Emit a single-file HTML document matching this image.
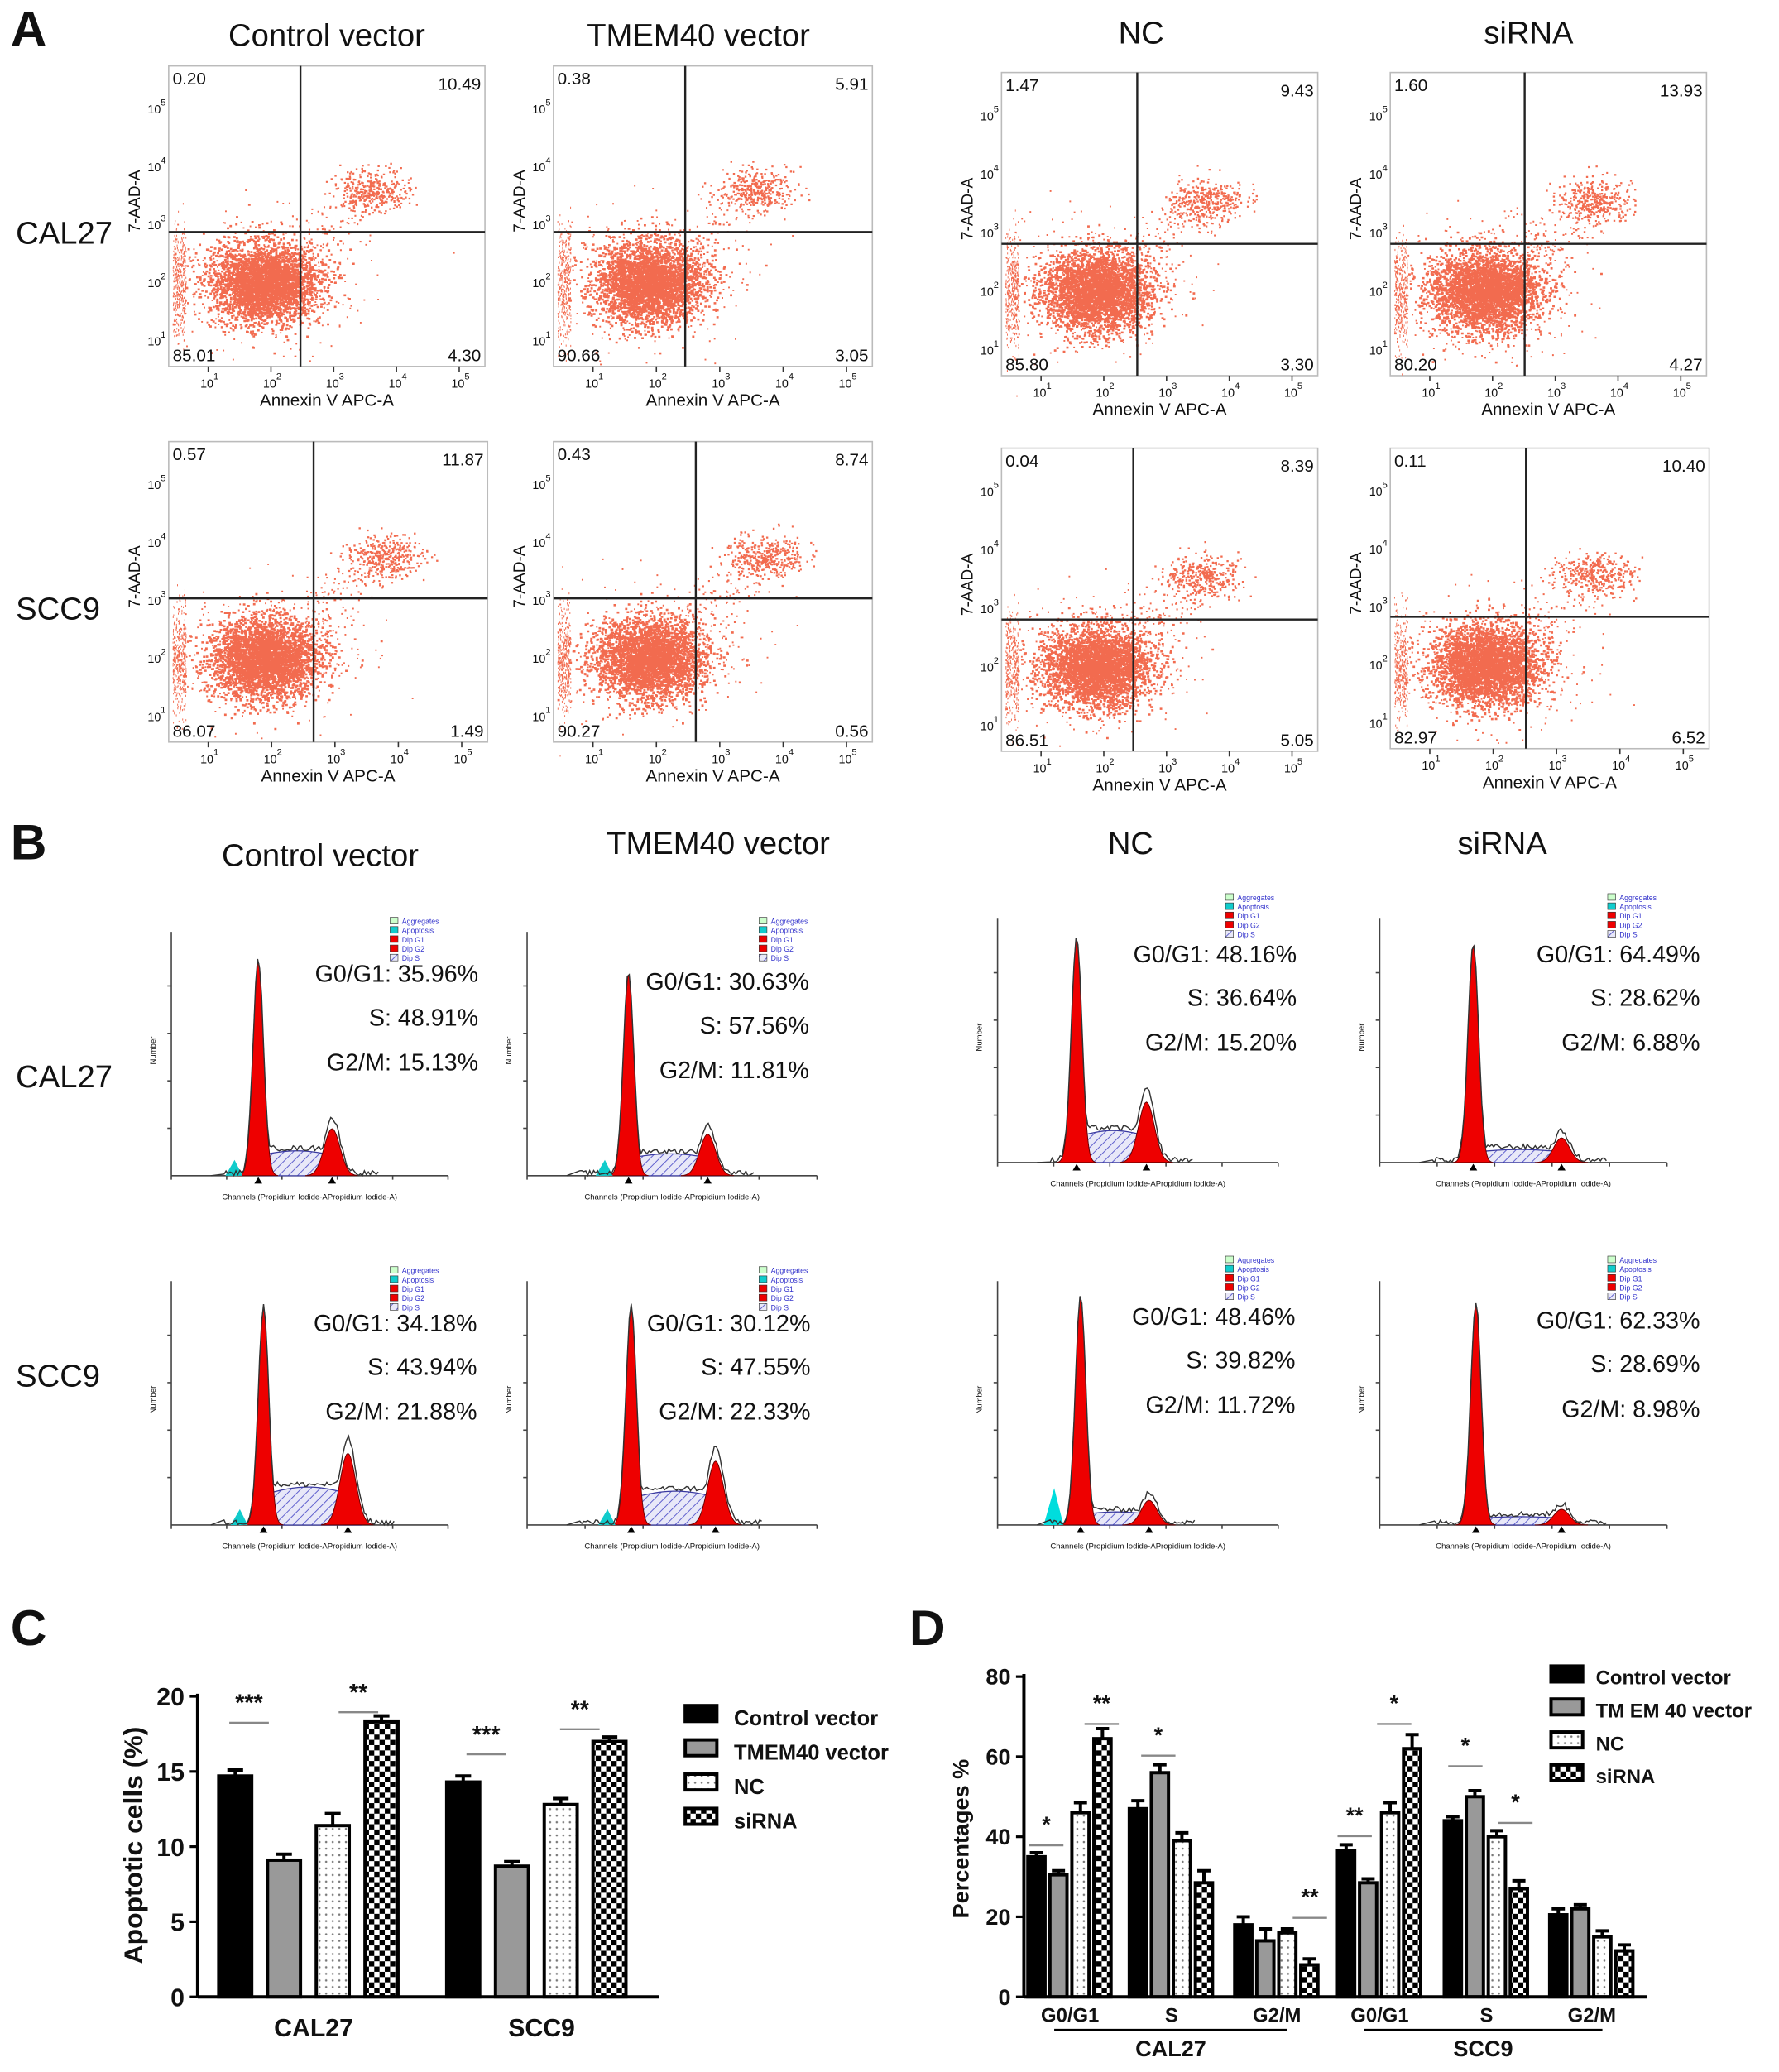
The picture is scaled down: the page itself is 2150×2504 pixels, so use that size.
<!DOCTYPE html>
<html><head><meta charset="utf-8"><style>
html,body{margin:0;padding:0;background:#fff}
svg{display:block;font-family:"Liberation Sans",Arial,sans-serif}
</style></head><body>
<svg id="fig" xmlns="http://www.w3.org/2000/svg" width="2150" height="2504" viewBox="0 0 1350 1572" preserveAspectRatio="none">
<defs>
<pattern id="dots" width="5" height="5" patternUnits="userSpaceOnUse"><rect width="5" height="5" fill="#fff"/><circle cx="2.5" cy="2.5" r="0.8" fill="#777"/></pattern>
<pattern id="check" width="8" height="8" patternUnits="userSpaceOnUse"><rect width="8" height="8" fill="#fff"/><rect width="4" height="4" fill="#000"/><rect x="4" y="4" width="4" height="4" fill="#000"/></pattern>
<pattern id="hatch" width="5" height="5" patternUnits="userSpaceOnUse" patternTransform="rotate(45)"><rect width="5" height="5" fill="#e8e8f8"/><line x1="0" y1="0" x2="0" y2="5" stroke="#5a5acc" stroke-width="1.2"/></pattern>
</defs>
<g id="root"></g>
</svg>
<script>
// Panel C data
const cGroups = ['CAL27','SCC9'];
const cSeries = ['Control vector','TMEM40 vector','NC','siRNA'];
const cValues = [[14.7,9.1,11.4,18.3],[14.3,8.7,12.8,17.0]];
const cErrors = [[0.4,0.4,0.8,0.4],[0.4,0.3,0.4,0.3]];
const cTicks = [0,5,10,15,20];
// Panel D data
const dCells = ['CAL27','SCC9'];
const dPhases = ['G0/G1','S','G2/M'];
const dValues = [
 [[35,30.5,46,64.5],[47,56,39,28.5],[18,14,16,8]],
 [[36.5,28.5,46,62],[44,50,40,27],[20.5,22,15,11.5]]
];
const dErrors = [
 [[1,1,2.5,2.5],[2,2,2,3],[2,3,1,1.5]],
 [[1.5,1,2.5,3.5],[1,1.5,1.5,2],[1.5,1,1.5,1.5]]
];
const dTicks = [0,20,40,60,80];

const NS='http://www.w3.org/2000/svg';
const root=document.getElementById('root');
function el(tag,attrs,parent,text){const e=document.createElementNS(NS,tag);for(const k in attrs)e.setAttribute(k,attrs[k]);if(text!==undefined)e.textContent=text;(parent||root).appendChild(e);return e;}
function txt(x,y,s,size,opts,parent,name){const e=el('text',Object.assign({x:x,y:y,'font-size':size,fill:'#111'},opts||{}),parent,s);

return e;}
let seed=12345;function rnd(){seed=(seed*1103515245+12345)%2147483648;return seed/2147483648;}
function gauss(){let u=rnd()||1e-6,v=rnd();return Math.sqrt(-2*Math.log(u))*Math.cos(2*Math.PI*v);}

[['A',8,35],['B',8,652],['C',8,1248],['D',690,1248]].forEach(p=>txt(p[1],p[2],p[0],38,{'font-weight':'bold'},null,'panel-letter-'+p[0].toLowerCase()));

// ---------- Panel A ----------
const aTitles=[['Control vector',248,35],['TMEM40 vector',530,35],['NC',866,33],['siRNA',1160,33]];
aTitles.forEach(t=>txt(t[1],t[2],t[0],24,{'text-anchor':'middle'},null,'flow-column-title'));
txt(12,185,'CAL27',24,{},null,'row-label-cal27');txt(12,470,'SCC9',24,{},null,'row-label-scc9');
const flows=[
 [128,50,240,228,228,176,['0.20','10.49','85.01','4.30']],
 [420,50,242,228,520,176,['0.38','5.91','90.66','3.05']],
 [760,55,240,230,863,185,['1.47','9.43','85.80','3.30']],
 [1055,55,240,230,1157,185,['1.60','13.93','80.20','4.27']],
 [128,335,242,228,238,454,['0.57','11.87','86.07','1.49']],
 [420,335,242,228,528,454,['0.43','8.74','90.27','0.56']],
 [760,340,240,230,860,470,['0.04','8.39','86.51','5.05']],
 [1055,340,242,228,1158,468,['0.11','10.40','82.97','6.52']]
];
flows.forEach((f,i)=>{
 const [x,y,w,h,vx,hy,q]=f;const g=el('g',{});
 
 el('rect',{x:x,y:y,width:w,height:h,fill:'#fff',stroke:'#bbb','stroke-width':1},g);
 let d='';
 const cx=x+0.3*w,cy=y+0.72*h;
 for(let k=0;k<3200;k++){const px=cx+gauss()*w*0.085,py=cy+gauss()*h*0.065;if(px>x+3&&px<x+w&&py>y&&py<y+h-2)d+=`M${px.toFixed(1)} ${py.toFixed(1)}h1.8v1.6h-1.8z`;}
 for(let k=0;k<400;k++){const px=cx+gauss()*w*0.14,py=cy+gauss()*h*0.11;if(px>x+3&&px<x+w&&py>y&&py<y+h-2)d+=`M${px.toFixed(1)} ${py.toFixed(1)}h1.2v1.2h-1.2z`;}
 for(let k=0;k<400;k++){const px=x+3+rnd()*10,py=cy+gauss()*h*0.09;d+=`M${px.toFixed(1)} ${py.toFixed(1)}h0.6v1.4h-0.6z`;}
 const ux=vx+0.22*w,uy=hy-0.14*h;
 for(let k=0;k<350;k++){const px=ux+gauss()*w*0.06,py=uy+gauss()*h*0.035;d+=`M${px.toFixed(1)} ${py.toFixed(1)}h1.5v1.4h-1.5z`;}
 for(let k=0;k<150;k++){const t=rnd();const px=cx+(ux-cx)*t+gauss()*12,py=cy+(uy-cy)*t+gauss()*12;d+=`M${px.toFixed(1)} ${py.toFixed(1)}h1.3v1.3h-1.3z`;}
 el('path',{d:d,fill:'#f26b4f'},g);
 el('line',{x1:vx,y1:y,x2:vx,y2:y+h,stroke:'#222','stroke-width':1.5},g);
 el('line',{x1:x,y1:hy,x2:x+w,y2:hy,stroke:'#222','stroke-width':1.5},g);
 txt(x+3,y+14,q[0],13,{},g,'quadrant-ul');txt(x+w-3,y+18,q[1],13,{'text-anchor':'end'},g,'quadrant-ur');
 txt(x+3,y+h-4,q[2],13,{},g,'quadrant-ll');txt(x+w-3,y+h-4,q[3],13,{'text-anchor':'end'},g,'quadrant-lr');
 ['1','2','3','4','5'].forEach((e,j)=>{const tx=x+30+j*(w-40)/4.2;el('line',{x1:tx,y1:y+h,x2:tx,y2:y+h+4,stroke:'#333'},g);txt(tx-6,y+h+16,'10',9,{},g,'x-tick');txt(tx+4,y+h+10,e,7,{},g,'x-tick-exp');
  const ty=y+h-20-j*(h-30)/4.5;txt(x-16,ty+4,'10',9,{},g,'y-tick');txt(x-6,ty-2,e,7,{},g,'y-tick-exp');});
 txt(x+w/2,y+h+30,'Annexin V APC-A',13,{'text-anchor':'middle'},g,'x-axis-title');
 txt(0,0,'7-AAD-A',12,{'text-anchor':'middle',transform:`translate(${x-22},${y+h*0.45}) rotate(-90)`},g,'y-axis-title');
});

// ---------- Panel B ----------
[['Control vector',243,657],['TMEM40 vector',545,648],['NC',858,648],['siRNA',1140,648]].forEach(t=>txt(t[1],t[2],t[0],24,{'text-anchor':'middle'},null,'cycle-column-title'));
txt(12,825,'CAL27',24,{},null,'row-label-cal27-b');txt(12,1052,'SCC9',24,{},null,'row-label-scc9-b');
const hists=[
 [130,340,892,196,730,252,850,'G0/G1: 35.96%','S: 48.91%','G2/M: 15.13%',296,363,745,true],
 [400,620,892,477,740,537,855,'G0/G1: 30.63%','S: 57.56%','G2/M: 11.81%',576,614,751,true],
 [757,970,882,817,713,870,828,'G0/G1: 48.16%','S: 36.64%','G2/M: 15.20%',930,984,730,false],
 [1047,1265,882,1118,718,1185,860,'G0/G1: 64.49%','S: 28.62%','G2/M: 6.88%',1220,1290,730,false],
 [130,340,1157,200,993,264,1093,'G0/G1: 34.18%','S: 43.94%','G2/M: 21.88%',296,362,1010,true],
 [400,620,1157,479,993,543,1100,'G0/G1: 30.12%','S: 47.55%','G2/M: 22.33%',576,615,1010,true],
 [757,970,1157,820,985,872,1135,'G0/G1: 48.46%','S: 39.82%','G2/M: 11.72%',930,983,1005,false],
 [1047,1265,1157,1120,990,1185,1143,'G0/G1: 62.33%','S: 28.69%','G2/M: 8.98%',1220,1290,1008,false]
];
hists.forEach((hh,i)=>{
 const [x0,x1,by,p1,t1,p2,t2,l1,l2,l3,legx,tx,ty,cyan]=hh;const g=el('g',{});
 
 el('line',{x1:x0,y1:by,x2:x1,y2:by,stroke:'#444'},g);el('line',{x1:x0,y1:by,x2:x0,y2:by-185,stroke:'#444'},g);
 for(let k=0;k<6;k++){const xx=x0+k*(x1-x0)/5;el('line',{x1:xx,y1:by,x2:xx,y2:by+3,stroke:'#444'},g);}
 for(let k=1;k<5;k++){const yy=by-k*36;el('line',{x1:x0-3,y1:yy,x2:x0,y2:yy,stroke:'#444'},g);}
 const s1=4,s2=6;
 const h1=by-t1,h2=by-t2,sh=(by-t2)*0.45;
 let hsd=`M${p1} ${by}`;
 for(let xx=p1;xx<=p2;xx+=2){hsd+=`L${xx} ${by-sh*(0.8+0.2*Math.sin((xx-p1)/(p2-p1)*3))}`;}
 hsd+=`L${p2+10} ${by}Z`;el('path',{d:hsd,fill:'url(#hatch)',stroke:'#3a3aa0','stroke-width':0.8},g);
 let a=`M${p1-15} ${by}`,b=`M${p2-20} ${by}`,e=`M${x0+30} ${by}`;
 for(let xx=p1-15;xx<=p1+15;xx+=0.5)a+=`L${xx} ${by-h1*Math.exp(-((xx-p1)**2)/(2*s1*s1))}`;
 for(let xx=p2-20;xx<=p2+20;xx+=1)b+=`L${xx} ${by-h2*0.85*Math.exp(-((xx-p2)**2)/(2*s2*s2))}`;
 el('path',{d:b+'Z',fill:'#e00',stroke:'#600','stroke-width':0.6},g);
 el('path',{d:a+'Z',fill:'#e00',stroke:'#600','stroke-width':0.6},g);
 if(cyan)el('path',{d:`M${p1-25} ${by}L${p1-18} ${by-12}L${p1-12} ${by}Z`,fill:'#1cc'},g);
 else if(i===6)el('path',{d:`M${p1-28} ${by}L${p1-20} ${by-28}L${p1-13} ${by}Z`,fill:'#0dd'},g);
 for(let xx=x0+40;xx<=p2+35;xx+=1.5){let v=h1*Math.exp(-((xx-p1)**2)/(2*s1*s1))+h2*Math.exp(-((xx-p2)**2)/(2*s2*s2));if(xx>p1&&xx<p2)v=Math.max(v,sh);v+=rnd()*4;e+=`L${xx} ${by-v}`;}
 el('path',{d:e,fill:'none',stroke:'#333','stroke-width':0.9},g);
 el('path',{d:`M${p1-3} ${by+6}L${p1+3} ${by+6}L${p1} ${by+1}Z M${p2-3} ${by+6}L${p2+3} ${by+6}L${p2} ${by+1}Z`,fill:'#000'},g);
 txt((x0+x1)/2,by+18,'Channels (Propidium Iodide-APropidium Iodide-A)',6,{'text-anchor':'middle'},g,'x-axis-title');
 txt(0,0,'Number',6,{'text-anchor':'middle',transform:`translate(${x0-12},${by-95}) rotate(-90)`},g,'y-axis-title');
 const lg=['Aggregates','Apoptosis','Dip G1','Dip G2','Dip S'],lc=['#cfc','#1cc','#e00','#e00','url(#hatch)'];
 const ly0=(i%4<2)?(by-196):(by-204);
 lg.forEach((s,j)=>{el('rect',{x:legx,y:ly0+j*7,width:6,height:5,fill:lc[j],stroke:'#333','stroke-width':0.4},g);txt(legx+9,ly0+5+j*7,s,5.5,{fill:'#33c'},g,'legend-entry');});
 txt(tx,ty,l1,18,{'text-anchor':'end'},g,'g0g1-label');
 txt(tx,ty+33,l2,18,{'text-anchor':'end'},g,'s-label');
 txt(tx,ty+67,l3,18,{'text-anchor':'end'},g,'g2m-label');
});

const fills=['#000','#999','url(#dots)','url(#check)'];
// ---------- Panel C ----------
(function(){
 const g=el('g',{});
 const ax=150,y0=1515,y1=1287,ymax=20;const Y=v=>y0-(y0-y1)*v/ymax;
 const bw=25,gap=12,gStart=[166,339];
 cTicks.forEach(t=>{el('line',{x1:ax-6,y1:Y(t),x2:ax,y2:Y(t),stroke:'#000','stroke-width':2},g);txt(ax-10,Y(t)+7,String(t),19,{'text-anchor':'end','font-weight':'bold'},g,'y-tick-label');});
 cGroups.forEach((cg,gi)=>{cValues[gi].forEach((v,si)=>{const bx=gStart[gi]+si*(bw+gap);
  const r=el('rect',{x:bx,y:Y(v),width:bw,height:y0-Y(v),fill:fills[si],stroke:'#000','stroke-width':2.5},g);
  
  const e=cErrors[gi][si];el('path',{d:`M${bx+bw/2} ${Y(v)}V${Y(v+e)}M${bx+bw/2-6} ${Y(v+e)}H${bx+bw/2+6}`,stroke:'#000','stroke-width':2.5},g);});
  txt(gStart[gi]+72,1545,cg,19,{'text-anchor':'middle','font-weight':'bold'},g,'x-tick-label');});
 el('line',{x1:ax,y1:y1-2,x2:ax,y2:y0,stroke:'#000','stroke-width':2.5},g);el('line',{x1:ax,y1:y0,x2:500,y2:y0,stroke:'#000','stroke-width':2.5},g);
 txt(0,0,'Apoptotic cells (%)',20,{'text-anchor':'middle','font-weight':'bold',transform:`translate(108,1400) rotate(-90)`},g,'y-axis-title');
 [[189,1298,'***'],[272,1290,'**'],[369,1322,'***'],[440,1303,'**']].forEach(s=>{txt(s[0],s[1],s[2],18,{'text-anchor':'middle','font-weight':'bold'},g,'significance-star');el('line',{x1:s[0]-15,y1:s[1]+9,x2:s[0]+15,y2:s[1]+9,stroke:'#888','stroke-width':1.5},g);});
 cSeries.forEach((s,si)=>{const ly=1302+si*26;el('rect',{x:520,y:ly-8,width:24,height:12,fill:fills[si],stroke:'#000','stroke-width':2.5},g);txt(557,ly+7,s,16,{'font-weight':'bold'},g,'legend-entry');});
})();
// ---------- Panel D ----------
(function(){
 const g=el('g',{});
 const ax=777,y0=1515,y1=1272,ymax=80;const Y=v=>y0-(y0-y1)*v/ymax;
 const bw=13,gap=3.7,phaseStart=[[780,857,937],[1015,1096,1176]];
 dTicks.forEach(t=>{el('line',{x1:ax-6,y1:Y(t),x2:ax,y2:Y(t),stroke:'#000','stroke-width':2},g);txt(ax-10,Y(t)+6,String(t),17,{'text-anchor':'end','font-weight':'bold'},g,'y-tick-label');});
 dCells.forEach((c,ci)=>{dPhases.forEach((p,pi)=>{dValues[ci][pi].forEach((v,si)=>{const bx=phaseStart[ci][pi]+si*(bw+gap);
  const r=el('rect',{x:bx,y:Y(v),width:bw,height:y0-Y(v),fill:fills[si],stroke:'#000','stroke-width':2.5},g);
  
  const e=dErrors[ci][pi][si];el('path',{d:`M${bx+bw/2} ${Y(v)}V${Y(v+e)}M${bx+bw/2-5} ${Y(v+e)}H${bx+bw/2+5}`,stroke:'#000','stroke-width':2.5},g);});
  txt(phaseStart[ci][pi]+32,1534,p,15,{'text-anchor':'middle','font-weight':'bold'},g,'phase-label');});
  const cx0=phaseStart[ci][0]+20,cx1=phaseStart[ci][2]+40;el('line',{x1:cx0,y1:1540,x2:cx1,y2:1540,stroke:'#000','stroke-width':1.5},g);
  txt((cx0+cx1)/2,1560,c,17,{'text-anchor':'middle','font-weight':'bold'},g,'cell-line-label');});
 el('line',{x1:ax,y1:y1-2,x2:ax,y2:y0,stroke:'#000','stroke-width':2.5},g);el('line',{x1:ax,y1:y0,x2:1250,y2:y0,stroke:'#000','stroke-width':2.5},g);
 txt(0,0,'Percentages %',17,{'text-anchor':'middle','font-weight':'bold',transform:`translate(735,1395) rotate(-90)`},g,'y-axis-title');
 [[794,1390,'*'],[836,1298,'**'],[879,1322,'*'],[994,1445,'**'],[1028,1383,'**'],[1058,1298,'*'],[1112,1330,'*'],[1150,1373,'*']].forEach(s=>{txt(s[0],s[1],s[2],17,{'text-anchor':'middle','font-weight':'bold'},g,'significance-star');el('line',{x1:s[0]-13,y1:s[1]+10,x2:s[0]+13,y2:s[1]+10,stroke:'#888','stroke-width':1.5},g);});
 cSeries.forEach((s,si)=>{const ly=1272+si*25;el('rect',{x:1177,y:ly-8,width:24,height:12,fill:fills[si],stroke:'#000','stroke-width':2.5},g);txt(1211,ly+6,s.replace('TMEM40','TM EM 40'),15,{'font-weight':'bold'},g,'legend-entry');});
})();
</script>
</body></html>
